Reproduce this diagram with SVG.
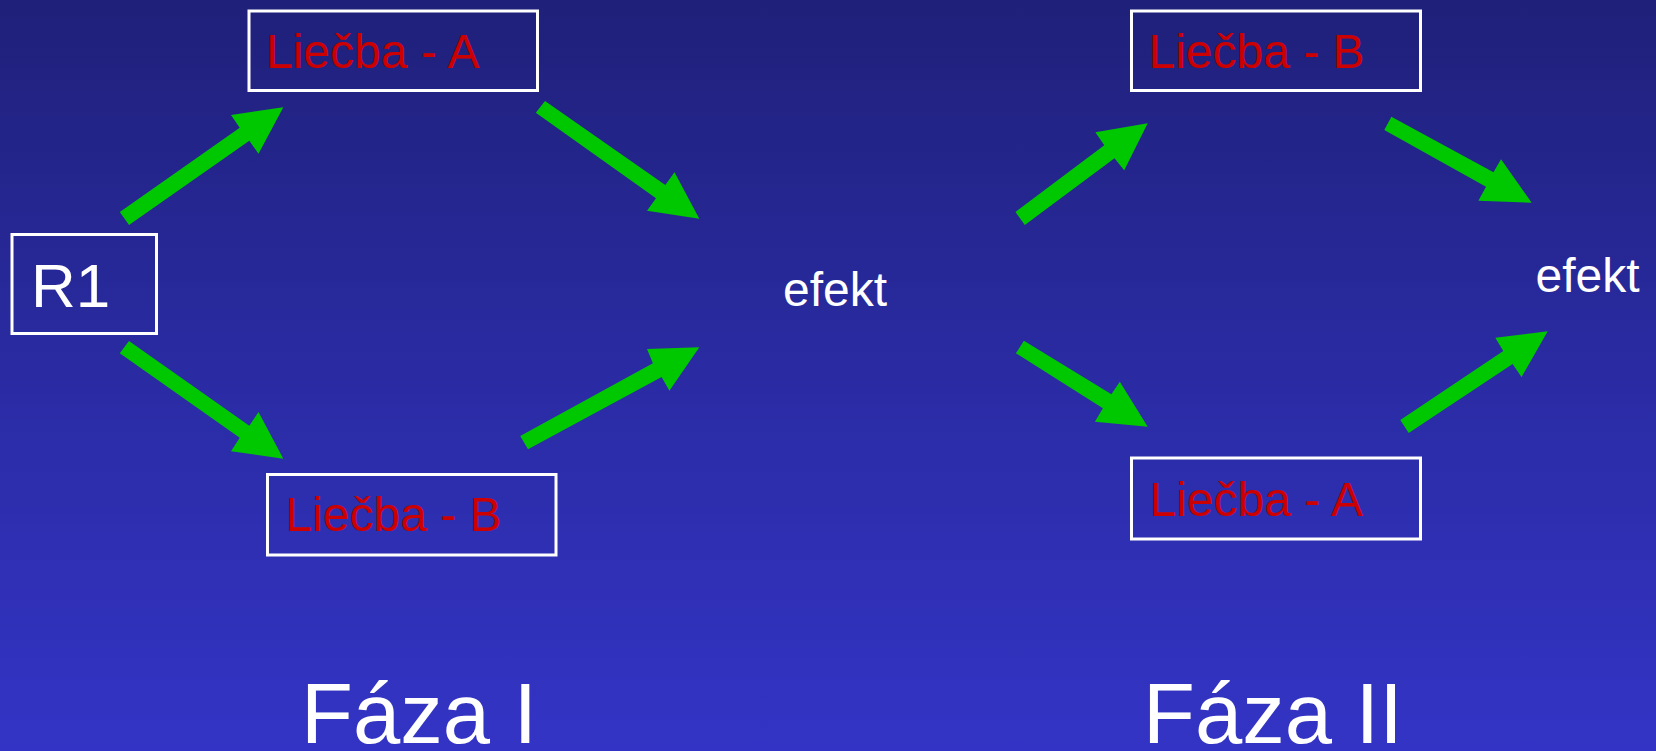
<svg xmlns="http://www.w3.org/2000/svg" width="1656" height="751" viewBox="0 0 1656 751">
<defs>
<linearGradient id="bg" x1="0" y1="0" x2="0" y2="1">
<stop offset="0" stop-color="#1f2079"/>
<stop offset="0.5" stop-color="#2a2ba3"/>
<stop offset="1" stop-color="#3334c5"/>
</linearGradient>
</defs>
<style>
.box{fill:none;stroke:#ffffff;stroke-width:3}
.red{font-family:"Liberation Sans",Arial,sans-serif;font-size:48px;fill:#cc0000}
.wht{font-family:"Liberation Sans",Arial,sans-serif;fill:#ffffff}
.arr{fill:#00c800}
</style>
<rect x="0" y="0" width="1656" height="751" fill="url(#bg)"/>
<g id="connectors">
<polygon class="arr" points="119.8,212 239.7,127.7 231,115 283.3,107.3 258.5,153.7 249.3,140.7 129,225"/>
<polygon class="arr" points="545,101 665.3,185 674.5,172.3 699.3,218.7 647,210.7 656,198.3 535.8,112.7"/>
<polygon class="arr" points="129,341 249.3,425.7 258.5,412 283.3,458.7 231,451.3 239.7,437.7 119.8,353.3"/>
<polygon class="arr" points="520.2,436 652.9,363.3 647,349 699.3,347.3 669.4,390.7 661.6,377 528,449.3"/>
<polygon class="arr" points="1015.5,212 1104.3,145.3 1095.4,132.3 1147.7,123.3 1124.2,170.3 1114.5,158.3 1024.8,225"/>
<polygon class="arr" points="1391.4,116.7 1493.5,172.3 1501,159.3 1531.7,202.7 1478.4,200.7 1486,186.7 1384.3,130"/>
<polygon class="arr" points="1023.9,340.7 1111.4,394.3 1119.8,381.7 1147.7,426.7 1094.9,421.7 1102.9,408.3 1015.9,353.3"/>
<polygon class="arr" points="1400.3,420 1503.3,351 1495.3,337.7 1547.7,331.3 1521.5,377 1512.6,364 1408.7,433"/>
</g>
<g id="r1">
<rect class="box" x="12" y="234.5" width="144.5" height="99"/>
<text class="wht" x="31" y="306.5" font-size="62">R1</text>
</g>
<g id="liecba-a-1">
<rect class="box" x="249" y="11" width="288.5" height="79.5"/>
<text class="red" x="266" y="67.7">Liečba - A</text>
</g>
<g id="liecba-b-1">
<rect class="box" x="267.5" y="474.5" width="288.5" height="80.5"/>
<text class="red" x="285.5" y="531.3">Liečba - B</text>
</g>
<g id="efekt-1">
<text class="wht" x="783" y="306" font-size="48">efekt</text>
</g>
<g id="liecba-b-2">
<rect class="box" x="1131.5" y="11" width="289" height="79.5"/>
<text class="red" x="1148.5" y="67.7">Liečba - B</text>
</g>
<g id="liecba-a-2">
<rect class="box" x="1131.5" y="458" width="289" height="81"/>
<text class="red" x="1149.5" y="515.7">Liečba - A</text>
</g>
<g id="efekt-2">
<text class="wht" x="1535.5" y="292" font-size="48">efekt</text>
</g>
<g id="faza-1">
<text class="wht" x="301" y="743.3" font-size="85">Fáza I</text>
</g>
<g id="faza-2">
<text class="wht" x="1143" y="743.3" font-size="85">Fáza II</text>
</g>
</svg>
